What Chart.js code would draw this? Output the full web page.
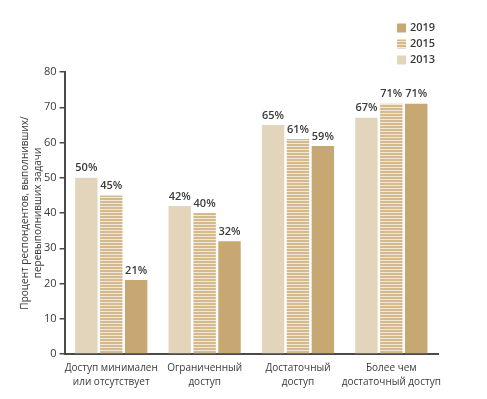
<!DOCTYPE html>
<html>
<head>
<meta charset="utf-8">
<script src="https://cdn.jsdelivr.net/npm/chart.js@4"></script>
<style>
  html, body { margin: 0; padding: 0; background: #fff; }
  #wrap { width: 487px; height: 399px; }
</style>
</head>
<body>
<div id="wrap"><canvas id="accessChart" width="487" height="399"></canvas></div>
<script>
// Data
const categories = [
    ['Доступ минимален', 'или отсутствует'],
    ['Ограниченный', 'доступ'],
    ['Достаточный', 'доступ'],
    ['Более чем', 'достаточный доступ']
];
const values2013 = [50, 42, 65, 67];
const values2015 = [45, 40, 61, 71];
const values2019 = [21, 32, 59, 71];
const yTicks = [0, 10, 20, 30, 40, 50, 60, 70, 80];

const textColor = '#3a3a3a';
const axisColor = '#4a4a4a';
const fontFamily = '"Open Sans", "Noto Sans", sans-serif';

// Striped fill for the 2015 series
function makeStripes() {
    const c = document.createElement('canvas');
    c.width = 4;
    c.height = 3;
    const g = c.getContext('2d');
    g.fillStyle = '#d3b98b';
    g.fillRect(0, 0, 4, 2);
    g.fillStyle = '#f1e8d7';
    g.fillRect(0, 2, 4, 1);
    return g.createPattern(c, 'repeat');
}

// Percent labels above each bar
const valueLabels = {
    id: 'valueLabels',
    afterDatasetsDraw(chart) {
        const ctx = chart.ctx;
        ctx.save();
        ctx.font = '600 11px ' + fontFamily;
        ctx.fillStyle = textColor;
        ctx.textAlign = 'center';
        ctx.textBaseline = 'bottom';
        chart.data.datasets.forEach((ds, i) => {
            chart.getDatasetMeta(i).data.forEach((bar, j) => {
                ctx.fillText(ds.data[j] + '%', bar.x, bar.y - 4);
            });
        });
        ctx.restore();
    }
};

// Vertical legend in the top right corner, newest year first
const sideLegend = {
    id: 'sideLegend',
    afterDraw(chart) {
        const ctx = chart.ctx;
        ctx.save();
        ctx.font = '600 11px ' + fontFamily;
        ctx.textBaseline = 'middle';
        const items = chart.data.datasets.slice().reverse();
        items.forEach((ds, i) => {
            const y = 28 + i * 16;
            ctx.fillStyle = ds.backgroundColor;
            ctx.fillRect(397, y - 4.5, 9, 9);
            ctx.fillStyle = textColor;
            ctx.fillText(ds.label, 410, y);
        });
        ctx.restore();
    }
};

const ctx = document.getElementById('accessChart').getContext('2d');
const accessChart = new Chart(ctx, {
    type: 'bar',
    data: {
        labels: categories,
        datasets: [
            { label: '2013', data: values2013, backgroundColor: '#e3d5bb' },
            { label: '2015', data: values2015, backgroundColor: makeStripes() },
            { label: '2019', data: values2019, backgroundColor: '#c7a772' }
        ]
    },
    plugins: [valueLabels, sideLegend],
    options: {
        responsive: false,
        animation: false,
        layout: { padding: { top: 72, right: 49, left: 19, bottom: 3 } },
        datasets: {
            bar: { categoryPercentage: 0.8, barPercentage: 0.9 }
        },
        plugins: {
            legend: { display: false },
            tooltip: { enabled: false }
        },
        scales: {
            x: {
                grid: { display: false, drawTicks: false },
                border: { color: axisColor, width: 2 },
                ticks: {
                    color: textColor,
                    font: { family: fontFamily, size: 10, lineHeight: 1.4 },
                    padding: 7,
                    maxRotation: 0,
                    autoSkip: false
                }
            },
            y: {
                min: 0,
                max: 80,
                afterBuildTicks(axis) {
                    axis.ticks = yTicks.map(v => ({ value: v }));
                },
                grid: {
                    drawOnChartArea: false,
                    drawTicks: true,
                    tickLength: 5,
                    color: axisColor,
                    lineWidth: 1.5
                },
                border: { color: axisColor, width: 2 },
                ticks: {
                    color: textColor,
                    font: { family: fontFamily, size: 11 },
                    padding: 3
                },
                title: {
                    display: true,
                    text: ['Процент респондентов, выполнивших/', 'перевыполнивших задачи'],
                    color: textColor,
                    font: { family: fontFamily, size: 10, lineHeight: 1.3 },
                    padding: { top: 0, bottom: -4 }
                }
            }
        }
    }
});
</script>
</body>
</html>
